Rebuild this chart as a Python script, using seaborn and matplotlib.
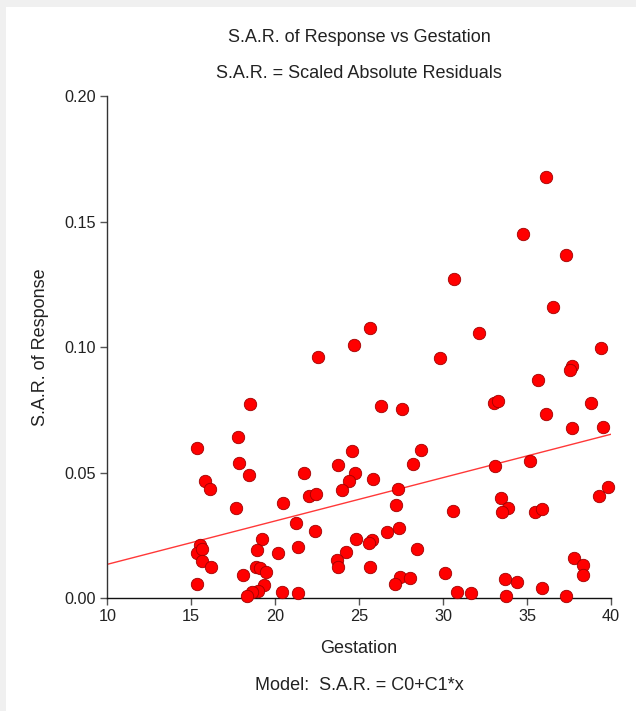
import numpy as np
import pandas as pd
import matplotlib
matplotlib.use("Agg")
import matplotlib.pyplot as plt
import seaborn as sns

# Gestation values (x)
gestation = [
    18.47, 17.78, 15.32, 17.82, 18.41, 15.80, 16.14, 17.68, 19.19, 15.53,
    15.32, 15.67, 15.67, 16.20, 15.35, 18.93, 20.14, 18.85, 19.07, 19.48,
    18.09, 19.36, 18.99, 18.63, 18.30, 20.40,
    26.29, 27.54, 24.57, 28.67, 21.73, 23.73, 24.74, 24.40, 28.21, 25.83,
    22.02, 22.44, 23.97, 27.32, 20.44, 27.22, 21.21, 22.35, 26.67, 27.38,
    24.80, 25.77, 25.58, 28.42, 21.33, 24.23, 23.71, 23.75, 25.64, 30.10,
    27.42, 28.02, 27.12, 21.33,
    30.60, 35.64, 33.02, 33.24, 38.79, 36.10, 37.66, 39.50, 33.10, 35.18,
    33.42, 33.87, 33.51, 35.50, 35.89, 39.31, 39.80, 37.78, 38.33, 38.31,
    33.69, 34.39, 35.89, 30.80, 31.67, 33.73, 37.32,
    36.11, 34.74, 37.30, 30.65, 36.55, 25.64, 32.13, 24.68, 29.79, 39.39,
    37.70, 37.58, 22.52,
]

# Scaled absolute residuals (y)
sar = [
    0.0773, 0.0641, 0.0600, 0.0540, 0.0490, 0.0468, 0.0434, 0.0358, 0.0235, 0.0212,
    0.0182, 0.0195, 0.0150, 0.0123, 0.0056, 0.0191, 0.0182, 0.0123, 0.0122, 0.0103,
    0.0092, 0.0054, 0.0029, 0.0024, 0.0010, 0.0026,
    0.0766, 0.0755, 0.0588, 0.0592, 0.0499, 0.0532, 0.0499, 0.0468, 0.0536, 0.0474,
    0.0408, 0.0415, 0.0431, 0.0436, 0.0378, 0.0373, 0.0301, 0.0268, 0.0265, 0.0280,
    0.0235, 0.0232, 0.0219, 0.0195, 0.0204, 0.0183, 0.0151, 0.0125, 0.0123, 0.0099,
    0.0085, 0.0081, 0.0057, 0.0021,
    0.0348, 0.0870, 0.0776, 0.0785, 0.0776, 0.0735, 0.0678, 0.0682, 0.0527, 0.0547,
    0.0400, 0.0361, 0.0342, 0.0344, 0.0357, 0.0408, 0.0444, 0.0159, 0.0133, 0.0093,
    0.0077, 0.0066, 0.0040, 0.0024, 0.0020, 0.0009, 0.0010,
    0.1678, 0.1450, 0.1367, 0.1270, 0.1161, 0.1077, 0.1056, 0.1008, 0.0955, 0.0998,
    0.0925, 0.0909, 0.0961,
]

# model S.A.R. = C0 + C1*x, coefficients
c0 = -0.00373
c1 = 0.001726

x_ticks = [10, 15, 20, 25, 30, 35, 40]
y_ticks = [0.00, 0.05, 0.10, 0.15, 0.20]

df = pd.DataFrame({"Gestation": gestation, "SAR": sar})
line_x = np.array([x_ticks[0], x_ticks[-1]])
fit = pd.DataFrame({"Gestation": line_x, "SAR": c0 + c1 * line_x})

sns.set_theme(style="white")
plt.rcParams["font.family"] = ["Liberation Sans", "DejaVu Sans"]

fig = plt.figure(figsize=(6.36, 7.11), dpi=100, facecolor="white")
# grey strip on the left and top of the screenshot
fig.patches.append(plt.Rectangle((0, 0), 6 / 636, 1, transform=fig.transFigure,
                                 facecolor="#f0f0f0", edgecolor="none", zorder=-5))
fig.patches.append(plt.Rectangle((0, 1 - 7 / 711), 1, 7 / 711, transform=fig.transFigure,
                                 facecolor="#f0f0f0", edgecolor="none", zorder=-5))

ax = fig.add_axes([0.1687, 0.1585, 0.7920, 0.7066])
ax.set_facecolor("none")

sns.lineplot(data=fit, x="Gestation", y="SAR", ax=ax, color="#ff3838", linewidth=1.0, zorder=2)
sns.scatterplot(data=df, x="Gestation", y="SAR", ax=ax, color="#ff0000", edgecolor="#a00000",
                linewidth=0.6, s=80, zorder=3, clip_on=False)

ax.set_xlim(x_ticks[0], x_ticks[-1])
ax.set_ylim(y_ticks[0], y_ticks[-1])
ax.set_xticks(x_ticks)
ax.set_yticks(y_ticks)
ax.set_xticklabels([str(t) for t in x_ticks])
ax.set_yticklabels([f"{t:.2f}" for t in y_ticks])
ax.tick_params(axis="both", direction="out", length=5, width=1, color="#555555",
               labelsize=11.7, labelcolor="#222222", pad=3, left=True, bottom=True)

for side in ["top", "right"]:
    ax.spines[side].set_visible(False)
for side in ["left", "bottom"]:
    ax.spines[side].set_color("#333333")
    ax.spines[side].set_linewidth(1.0)
ax.spines["bottom"].set_color("#111111")

ax.set_xlabel("Gestation", fontsize=13, color="#222222", labelpad=11)
ax.set_ylabel("S.A.R. of Response", fontsize=13, color="#222222")
ax.yaxis.set_label_coords(-0.115, 0.5)

fig.text(0.5645, 1 - 38 / 711, "S.A.R. of Response vs Gestation", ha="center", va="center",
         fontsize=13, color="#222222")
fig.text(0.5645, 1 - 74 / 711, "S.A.R. = Scaled Absolute Residuals", ha="center", va="center",
         fontsize=13, color="#222222")
fig.text(0.5645, 1 - 686 / 711, "Model:  S.A.R. = C0+C1*x", ha="center", va="center",
         fontsize=13, color="#222222")

fig.savefig("out.png", dpi=100, facecolor=fig.get_facecolor())
